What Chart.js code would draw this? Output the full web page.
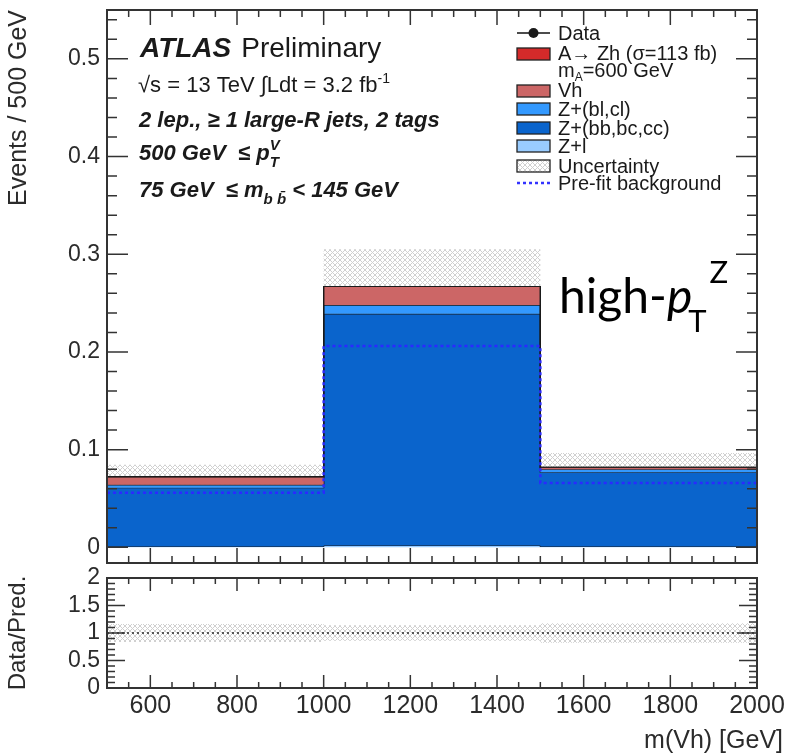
<!DOCTYPE html>
<html>
<head>
<meta charset="utf-8">
<script src="https://cdn.jsdelivr.net/npm/chart.js@4.4.1/dist/chart.umd.min.js"></script>
<style>
  html, body { margin: 0; padding: 0; background: #fff; }
  #wrap { position: relative; width: 785px; height: 754px; }
  canvas { position: absolute; left: 0; filter: blur(0.45px); }
  #mainChart { top: 0; }
  #ratioChart { top: 556px; }
</style>
</head>
<body>
<div id="wrap">
  <canvas id="mainChart" width="785" height="566"></canvas>
  <canvas id="ratioChart" width="785" height="198"></canvas>
</div>
<script>
// bin edges of m(Vh) [GeV]
var edges = [500, 1000, 1500, 2000];

// stack components, bottom to top (events / 500 GeV)
var zlVals  = [0.001, 0.002, 0.001];   // Z+l
var zbbVals = [0.060, 0.237, 0.076];   // Z+(bb,bc,cc)
var zblVals = [0.003, 0.009, 0.003];   // Z+(bl,cl)
var vhVals  = [0.008, 0.019, 0.002];   // Vh
var azhVals = [0.0005, 0.0, 0.0];      // A->Zh
var uncVals = [0.012, 0.038, 0.0145];  // total uncertainty
var prefitVals = [0.056, 0.206, 0.066];// pre-fit background

// ticks
var yTicks = [0, 0.1, 0.2, 0.3, 0.4, 0.5];
var xTicks = [600, 800, 1000, 1200, 1400, 1600, 1800, 2000];
var xTickLabels = ['600', '800', '1000', '1200', '1400', '1600', '1800', '2000'];
var ratioTicks = [0, 0.5, 1, 1.5, 2];
var ratioTickLabels = ['0', '0.5', '1', '1.5', '2'];

var fam = '"Liberation Sans", Arial, Helvetica, sans-serif';
var axisColor = '#2b2b2b';

var colZl = '#99ccff', colZbb = '#0a64cc', colZbl = '#3399ff', colVh = '#cc6666', colAzh = '#d42a2a';

// histogram -> step points (last bin repeated at right edge)
function steps(vals) {
  return edges.map(function (x, i) {
    return { x: x, y: vals[Math.min(i, vals.length - 1)] };
  });
}
function addArr(a, b) { return a.map(function (v, i) { return v + b[i]; }); }

var c1 = zlVals.slice();
var c2 = addArr(c1, zbbVals);
var c3 = addArr(c2, zblVals);
var c4 = addArr(c3, vhVals);
var c5 = addArr(c4, azhVals);
var uncLo = c5.map(function (v, i) { return v - uncVals[i]; });
var uncHi = c5.map(function (v, i) { return v + uncVals[i]; });
var ratioLo = c5.map(function (v, i) { return 1 - uncVals[i] / v; });
var ratioHi = c5.map(function (v, i) { return 1 + uncVals[i] / v; });
var ones = c5.map(function () { return 1; });

function hatch(ctx) {
  var c = document.createElement('canvas');
  c.width = 5; c.height = 5;
  var g = c.getContext('2d');
  g.fillStyle = '#ffffff';
  g.fillRect(0, 0, 5, 5);
  g.strokeStyle = '#d0d0d0';
  g.lineWidth = 1;
  g.beginPath();
  g.moveTo(0, 5); g.lineTo(5, 0);
  g.moveTo(0, 0); g.lineTo(5, 5);
  g.stroke();
  return ctx.createPattern(c, 'repeat');
}

// frame with ROOT-like inward ticks on all sides
var framePlugin = {
  id: 'frame',
  afterDraw: function (chart, args, o) {
    var ctx = chart.ctx, a = chart.chartArea, x = chart.scales.x, y = chart.scales.y;
    ctx.save();
    ctx.strokeStyle = '#333';
    ctx.lineWidth = 1.5;
    ctx.beginPath();
    function xt(v, len) {
      var px = x.getPixelForValue(v);
      ctx.moveTo(px, a.bottom); ctx.lineTo(px, a.bottom - len);
      ctx.moveTo(px, a.top); ctx.lineTo(px, a.top + len);
    }
    function yt(v, len) {
      var py = y.getPixelForValue(v);
      ctx.moveTo(a.left, py); ctx.lineTo(a.left + len, py);
      ctx.moveTo(a.right, py); ctx.lineTo(a.right - len, py);
    }
    for (var v = 500; v <= 2000; v += 50) {
      xt(v, xTicks.indexOf(v) >= 0 ? o.xMajor : o.xMinor);
    }
    for (var k = 0; k <= o.yMinorN; k++) {
      var yv = o.yMin0 + k * o.yMinorStep;
      if (yv > y.max + 1e-9) break;
      yt(yv, (k % o.yMinorPer === 0) ? o.yMajor : o.yMinor);
    }
    ctx.stroke();
    ctx.lineWidth = 2;
    ctx.strokeRect(a.left, a.top, a.right - a.left, a.bottom - a.top);
    ctx.restore();
  }
};

function runs(ctx, x, y, list) {
  list.forEach(function (r) {
    ctx.font = r.f;
    ctx.fillText(r.t, x + (r.dx || 0), y + (r.dy || 0));
    if (!r.keep) x += ctx.measureText(r.t).width + (r.dx || 0);
  });
  return x;
}

var textPlugin = {
  id: 'texts',
  afterDraw: function (chart) {
    var ctx = chart.ctx;
    ctx.save();
    ctx.textAlign = 'left';
    ctx.textBaseline = 'alphabetic';
    ctx.fillStyle = '#1a1a1a';
    var n = '22px ' + fam, bi = 'italic bold 22px ' + fam, sm = '14px ' + fam, smbi = 'italic bold 15px ' + fam;
    runs(ctx, 140, 57, [{ t: 'ATLAS', f: 'italic bold 28px ' + fam }, { t: 'Preliminary', f: '28px ' + fam, dx: 10 }]);
    runs(ctx, 138, 92, [{ t: '\u221As = 13 TeV \u222BLdt = 3.2 fb', f: n }, { t: '-1', f: sm, dy: -9 }]);
    runs(ctx, 139, 127, [{ t: '2 lep., \u2265 1 large-R jets, 2 tags', f: bi }]);
    runs(ctx, 139, 160, [{ t: '500 GeV  \u2264 p', f: bi }, { t: 'V', f: smbi, dy: -10, keep: true }, { t: 'T', f: smbi, dy: 7 }]);
    runs(ctx, 139, 197, [{ t: '75 GeV  \u2264 m', f: bi }, { t: 'b b\u0304', f: smbi, dy: 7 }, { t: ' < 145 GeV', f: bi }]);

    // legend
    var lf = '20px ' + fam;
    var bx = 517, bw = 33, bh = 12, tx = 558;
    ctx.fillStyle = '#1a1a1a';
    ctx.strokeStyle = '#111';
    ctx.lineWidth = 1.5;
    ctx.beginPath(); ctx.moveTo(bx, 33); ctx.lineTo(bx + bw, 33); ctx.stroke();
    ctx.beginPath(); ctx.arc(bx + bw / 2, 33, 5, 0, Math.PI * 2); ctx.fill();
    runs(ctx, tx, 40, [{ t: 'Data', f: lf }]);
    var boxes = [
      [54, colAzh, 'A\u2192 Zh (\u03C3=113 fb)', 60],
      [91, colVh, 'Vh', 97],
      [109, colZbl, 'Z+(bl,cl)', 116],
      [128, colZbb, 'Z+(bb,bc,cc)', 135],
      [146, colZl, 'Z+l', 153],
      [166, hatch(ctx), 'Uncertainty', 173]
    ];
    boxes.forEach(function (b) {
      ctx.fillStyle = b[1];
      ctx.fillRect(bx, b[0] - bh / 2, bw, bh);
      ctx.strokeStyle = '#222';
      ctx.lineWidth = 1.3;
      ctx.strokeRect(bx, b[0] - bh / 2, bw, bh);
      ctx.fillStyle = '#1a1a1a';
      runs(ctx, tx, b[3], [{ t: b[2], f: lf }]);
    });
    runs(ctx, tx, 77, [{ t: 'm', f: lf }, { t: 'A', f: '12px ' + fam, dy: 4 }, { t: '=600 GeV', f: lf }]);
    ctx.strokeStyle = '#3333ff';
    ctx.lineWidth = 2.5;
    ctx.setLineDash([3, 3]);
    ctx.beginPath(); ctx.moveTo(bx, 183); ctx.lineTo(bx + bw, 183); ctx.stroke();
    ctx.setLineDash([]);
    runs(ctx, tx, 190, [{ t: 'Pre-fit background', f: lf }]);

    // region label
    ctx.fillStyle = '#000';
    runs(ctx, 559, 313, [
      { t: 'high-', f: '48px Lato, "Open Sans", sans-serif' },
      { t: 'p', f: 'italic 48px Lato, "Open Sans", sans-serif' },
      { t: 'T', f: '31px Lato, "Open Sans", sans-serif', dy: 19, dx: -4 },
      { t: 'Z', f: '31px Lato, "Open Sans", sans-serif', dy: -30, dx: 3 }
    ]);
    ctx.restore();
  }
};

var mctx = document.getElementById('mainChart').getContext('2d');
var pat = hatch(mctx);

function line(vals, extra) {
  var d = {
    data: steps(vals), stepped: true, pointRadius: 0, borderWidth: 1.2,
    borderColor: '#1a1a1a', fill: false
  };
  for (var k in extra) d[k] = extra[k];
  return d;
}

function noPadX(s) { s.height = s.options.fixedHeight; s.paddingLeft = 0; s.paddingRight = 0; }
function noPadY(s) { s.width = 107; s.paddingTop = 0; s.paddingBottom = 0; }

new Chart(mctx, {
  type: 'line',
  data: {
    datasets: [
      line(uncLo, { borderWidth: 0, borderColor: 'rgba(0,0,0,0)', order: 20 }),
      line(uncHi, { borderWidth: 0, borderColor: 'rgba(0,0,0,0)', fill: '-1', backgroundColor: pat, order: 19 }),
      line(c1, { fill: 'origin', backgroundColor: colZl, order: 8 }),
      line(c2, { fill: '-1', backgroundColor: colZbb, order: 7 }),
      line(c3, { fill: '-1', backgroundColor: colZbl, order: 6 }),
      line(c4, { fill: '-1', backgroundColor: colVh, order: 5 }),
      line(c5, { fill: '-1', backgroundColor: colAzh, order: 4 }),
      line(prefitVals, { borderColor: '#2a2aff', borderWidth: 2.5, borderDash: [3, 3], order: 0 })
    ]
  },
  options: {
    responsive: false,
    animation: false,
    layout: { padding: { left: 0, right: 28, top: 10, bottom: 3 } },
    plugins: {
      legend: { display: false },
      tooltip: { enabled: false },
      frame: { xMajor: 15, xMinor: 7, yMajor: 21, yMinor: 10, yMin0: 0, yMinorStep: 0.02, yMinorN: 30, yMinorPer: 5 }
    },
    scales: {
      x: {
        type: 'linear', min: 500, max: 2000, fixedHeight: 0,
        ticks: { display: false }, grid: { display: false }, border: { display: false },
        afterFit: noPadX
      },
      y: {
        min: -0.016, max: 0.55,
        afterBuildTicks: function (s) { s.ticks = yTicks.map(function (v) { return { value: v }; }); },
        ticks: { padding: 7, autoSkip: false, color: axisColor, font: { family: fam, size: 23 } },
        grid: { display: false, drawTicks: false }, border: { display: false },
        title: { display: true, text: 'Events / 500 GeV', align: 'end', color: axisColor,
                 font: { family: fam, size: 25 }, padding: { top: 4, bottom: 0 } },
        afterFit: noPadY
      }
    }
  },
  plugins: [framePlugin, textPlugin]
});

var rctx = document.getElementById('ratioChart').getContext('2d');
var rpat = hatch(rctx);

var xTitlePlugin = {
  id: 'xtitle',
  afterDraw: function (chart) {
    var ctx = chart.ctx;
    ctx.save();
    ctx.fillStyle = axisColor;
    ctx.textAlign = 'right';
    ctx.textBaseline = 'alphabetic';
    ctx.font = '25px ' + fam;
    ctx.fillText('m(Vh) [GeV]', 783, 192);
    ctx.restore();
  }
};

new Chart(rctx, {
  type: 'line',
  data: {
    datasets: [
      line(ratioLo, { borderWidth: 0, borderColor: 'rgba(0,0,0,0)', order: 20 }),
      line(ratioHi, { borderWidth: 0, borderColor: 'rgba(0,0,0,0)', fill: '-1', backgroundColor: rpat, order: 19 }),
      line(ones, { borderColor: '#555', borderWidth: 2, borderDash: [2, 3], order: 0 })
    ]
  },
  options: {
    responsive: false,
    animation: false,
    layout: { padding: { left: 0, right: 28, top: 22, bottom: 0 } },
    plugins: {
      legend: { display: false },
      tooltip: { enabled: false },
      frame: { xMajor: 13, xMinor: 6, yMajor: 18, yMinor: 8, yMin0: 0, yMinorStep: 0.1, yMinorN: 20, yMinorPer: 5 }
    },
    scales: {
      x: {
        type: 'linear', min: 500, max: 2000, fixedHeight: 66,
        afterBuildTicks: function (s) { s.ticks = xTicks.map(function (v) { return { value: v }; }); },
        ticks: { padding: 3, autoSkip: false, maxRotation: 0, color: axisColor, font: { family: fam, size: 25 },
                 callback: function (v) { return xTickLabels[xTicks.indexOf(v)]; } },
        grid: { display: false, drawTicks: false }, border: { display: false },
        afterFit: noPadX
      },
      y: {
        min: 0, max: 2,
        afterBuildTicks: function (s) { s.ticks = ratioTicks.map(function (v) { return { value: v }; }); },
        ticks: { padding: 7, autoSkip: false, color: axisColor, font: { family: fam, size: 23 },
                 callback: function (v) { return ratioTickLabels[ratioTicks.indexOf(v)]; } },
        grid: { display: false, drawTicks: false }, border: { display: false },
        title: { display: true, text: 'Data/Pred.', align: 'center', color: axisColor,
                 font: { family: fam, size: 24 }, padding: { top: 4, bottom: 0 } },
        afterFit: noPadY
      }
    }
  },
  plugins: [framePlugin, xTitlePlugin]
});
</script>
</body>
</html>
